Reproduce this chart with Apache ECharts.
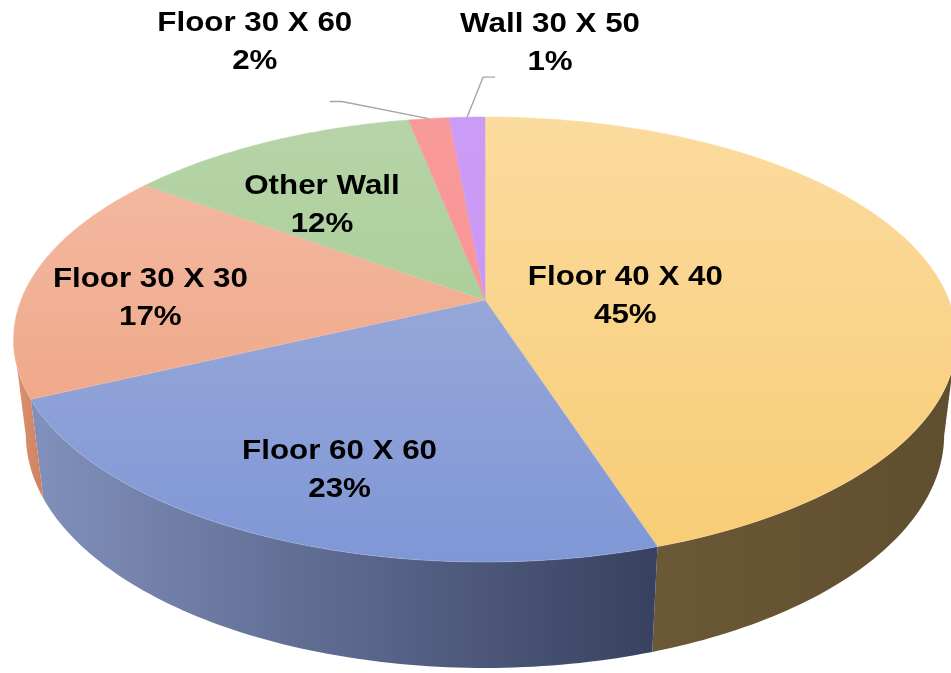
<!DOCTYPE html>
<html><head><meta charset="utf-8">
<script src="https://cdn.jsdelivr.net/npm/echarts@6/dist/echarts.min.js"></script>
<style>html,body{margin:0;padding:0;background:#fff;overflow:hidden}#c{width:951px;height:673px}</style>
</head><body><div id="c"></div>
<script>
// ---- data ----
const categories = ['Floor 40 X 40', 'Floor 60 X 60', 'Floor 30 X 30', 'Other Wall', 'Floor 30 X 60', 'Wall 30 X 50'];
const values = [45, 23, 17, 11.9, 1.65, 1.45];

// ---- styles ----
const topColors = [
  ['#fbdb9e', '#f8cc75'],
  ['#a6b2da', '#7f97d6'],
  ['#f3bda6', '#ee9d7a'],
  ['#b7d4a8', '#9bc888'],
  ['#f99a9a', '#f88f8f'],
  ['#cb9cf5', '#c593f2']
];
const sideColors = [
  ['#6b5836', '#5f4e2f'],
  ['#8291bd', '#384260'],
  ['#dc9272', '#d0825f'],
  ['#8fb47c', '#7fa46d'],
  ['#d88080', '#c87070'],
  ['#a57cd0', '#9570c0']
];
// label layout: r = radial fraction of anchor, dx/dy pixel offset of label centre, leader = elbow points rel. to anchor
const labelLayout = [
  { r: 0.30, dx: 4, dy: 7 },
  { r: 0.75, dx: 12, dy: 2 },
  { r: 0.72, dx: -6, dy: 13 },
  { r: 0.65, dx: -15, dy: 13 },
  { r: 1.0, dx: -174, dy: -76, leader: [[-87, -17], [-99, -17]] },
  { r: 1.0, dx: 83, dy: -74, leader: [[16, -40], [28, -40]] }
];

// ---- projection (perspective 3D pie) ----
const CX = 485, CY = 300, A = 464, B = 215.5, P = 0.1775, Q = 0.026, H = 96.7;
const DEG = Math.PI / 180;
function topPt(theta, r) {
  const u = r * Math.sin(theta), v = r * Math.cos(theta), w = 1 + P * v;
  return [CX + A * u / w, CY - B * v / w];
}
function botPt(theta, r) {
  const u = r * Math.sin(theta), v = r * Math.cos(theta), w = 1 + P * v + Q;
  return [CX + A * u / w, CY + (-B * v + H) / w];
}
const total = values.reduce((a, b) => a + b, 0);
const starts = [];
let acc = 0;
values.forEach(v => { starts.push(acc / total * 360); acc += v; });
const FRONT0 = Math.acos(-P) / DEG, FRONT1 = 360 - FRONT0;

function arc(fn, a0, a1, r) {
  const pts = [];
  const n = Math.max(2, Math.ceil(Math.abs(a1 - a0)));
  for (let i = 0; i <= n; i++) {
    const a = a0 + (a1 - a0) * i / n;
    pts.push(fn(a * DEG, r));
  }
  return pts;
}

function renderItem(params, api) {
  const i = params.dataIndex;
  const a0 = starts[i], a1 = a0 + values[i] / total * 360;
  const children = [];
  // side wall (front-facing part only)
  const s = Math.max(a0, FRONT0), e = Math.min(a1, FRONT1);
  if (e > s) {
    const pts = arc(topPt, s, e, 1).concat(arc(botPt, e, s, 1));
    const xs = pts.map(p => p[0]);
    children.push({
      type: 'polygon', z2: 1,
      shape: { points: pts },
      style: {
        fill: {
          type: 'linear', global: true,
          x: i === 1 ? 25 : Math.min(...xs), y: 0,
          x2: i === 1 ? 650 : Math.max(...xs), y2: 0,
          colorStops: [{ offset: 0, color: sideColors[i][0] }, { offset: 1, color: sideColors[i][1] }]
        },
        stroke: null
      }
    });
  }
  // top face
  const topPts = [topPt(0, 0)].concat(arc(topPt, a0, a1, 1));
  children.push({
    type: 'polygon', z2: 2,
    shape: { points: topPts },
    style: {
      fill: {
        type: 'linear', global: true, x: 0, y: 117, x2: 0, y2: 562,
        colorStops: [{ offset: 0, color: topColors[i][0] }, { offset: 1, color: topColors[i][1] }]
      },
      stroke: topColors[i][0], lineWidth: 0.5
    }
  });
  // label
  const L = labelLayout[i];
  const mid = (a0 + a1) / 2 * DEG;
  const anc = topPt(mid, L.r);
  const lx = anc[0] + L.dx, ly = anc[1] + L.dy;
  if (L.leader) {
    const lp = [anc].concat(L.leader.map(d => [anc[0] + d[0], anc[1] + d[1]]));
    children.push({
      type: 'polyline', z2: 9,
      shape: { points: lp },
      style: { stroke: '#a6a6a6', lineWidth: 1.4, fill: null }
    });
  }
  const pct = Math.round(values[i] / total * 100) + '%';
  [categories[i], pct].forEach((t, k) => {
    children.push({
      type: 'text', z2: 10,
      x: lx, y: ly + (k === 0 ? -19 : 19),
      scaleX: 1.16, scaleY: 1,
      style: {
        text: t, x: 0, y: 0,
        fill: '#000',
        font: 'bold 27px "Liberation Sans", Arial, sans-serif',
        align: 'center', verticalAlign: 'middle',
        textAlign: 'center', textVerticalAlign: 'middle'
      }
    });
  });
  return { type: 'group', children };
}

const chart = echarts.init(document.getElementById('c'), null, { renderer: 'canvas' });
chart.setOption({
  animation: false,
  backgroundColor: '#ffffff',
  series: [{
    type: 'custom',
    coordinateSystem: 'none',
    renderItem: renderItem,
    data: values.map((v, i) => ({ name: categories[i], value: v })),
    silent: true
  }]
});
</script>
</body></html>
